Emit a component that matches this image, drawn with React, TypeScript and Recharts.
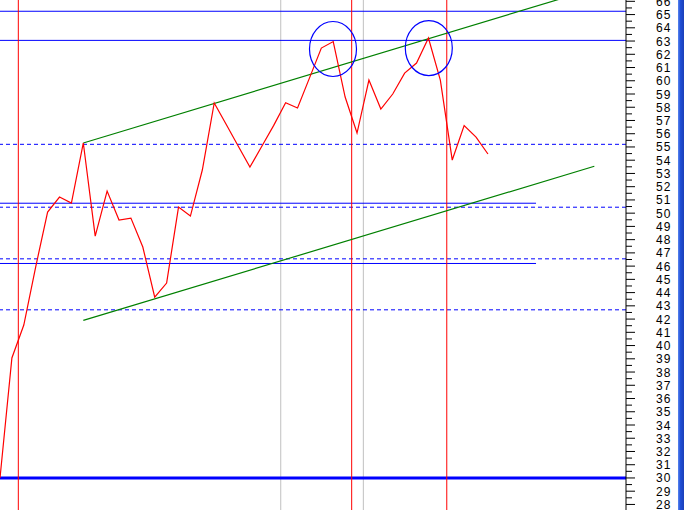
import React from 'react';
import { ComposedChart, Line, XAxis, YAxis, ReferenceLine, ReferenceDot } from 'recharts';

// closing prices, one per bar
const prices = [
  30.0, 39.06, 41.55, 45.95, 50.08, 51.22, 50.76, 55.3, 48.27, 51.67,
  49.48, 49.63, 47.44, 43.66, 44.72, 50.46, 49.78, 53.26, 58.32, 56.71,
  55.09, 53.48, 55.05, 56.63, 58.34, 57.94, 60.2, 62.47, 62.96, 58.77,
  56.05, 60.05, 57.86, 59.0, 60.58, 61.34, 63.23, 60.05, 54.01, 56.62,
  55.75, 54.47,
];

// price scale labels
const priceLabels = [
  28, 29, 30, 31, 32, 33, 34, 35, 36, 37, 38, 39, 40, 41, 42, 43, 44, 45, 46, 47,
  48, 49, 50, 51, 52, 53, 54, 55, 56, 57, 58, 59, 60, 61, 62, 63, 64, 65, 66,
];

// horizontal levels
const solidLevels = [65.25, 63.05];
const shortLevels = [50.75, 46.2];
const shortLevelEnd = 45.04;
const dashedLevels = [55.2, 50.45, 46.55, 42.7];
const baseLevel = 30;

// vertical markers (bar index)
const redMarkers = [1.54, 29.55, 37.54];
const grayMarkers = [23.59, 30.53];

// trend channel: [startIndex, startValue, endIndex, endValue]
const upperTrend = [7, 55.3, 47, 66.16];
const lowerTrend = [7, 41.9, 49.94, 53.54];

// highlighted tops: [index, value]
const tops = [
  [27.98, 62.4],
  [36.03, 62.47],
];

const xMax = 52.6;
const yDomain = [27.58, 66.1];

const data = prices.map((v, i) => ({ i, v }));
const ticks = priceLabels.flatMap((n) => [n, n + 0.5]).filter((t) => t <= 66);

const AxisTick = (props: any) => {
  const { x, y, payload } = props;
  const major = Number.isInteger(payload.value);
  return (
    <g>
      <line x1={x} y1={y} x2={x + (major ? 9 : 6)} y2={y} stroke="#000" />
      {major && (
        <text
          x={x + 30}
          y={y}
          dy={4.5}
          textAnchor="start"
          fontSize={12}
          letterSpacing={1}
          fontFamily="Liberation Sans, Arial, sans-serif"
          fill="#000"
        >
          {payload.value}
        </text>
      )}
    </g>
  );
};

const Ellipse = (p: any) => (
  <ellipse cx={p.cx} cy={p.cy} rx={23.5} ry={27.5} fill="none" stroke="#0000ff" strokeWidth={1.2} />
);

export default function App() {
  return (
    <div style={{ position: 'absolute', left: 0, top: 0, width: 684, height: 510, background: '#fff' }}>
      <ComposedChart width={684} height={510} data={data} margin={{ top: 0, right: 0, bottom: 0, left: 0 }}>
        <XAxis dataKey="i" type="number" domain={[0, xMax]} allowDataOverflow hide />
        <YAxis
          orientation="right"
          width={58}
          domain={yDomain}
          allowDataOverflow
          ticks={ticks}
          interval={0}
          tickSize={0}
          tickMargin={0}
          tickLine={false}
          axisLine={{ stroke: '#000' }}
          tick={<AxisTick />}
        />

        {grayMarkers.map((x) => (
          <ReferenceLine key={`g${x}`} x={x} stroke="#c0c0c0" />
        ))}
        {dashedLevels.map((y) => (
          <ReferenceLine key={`d${y}`} y={y} stroke="#0000ff" strokeDasharray="4 3" />
        ))}
        {solidLevels.map((y) => (
          <ReferenceLine key={`s${y}`} y={y} stroke="#0000ff" />
        ))}
        {shortLevels.map((y) => (
          <ReferenceLine
            key={`p${y}`}
            segment={[
              { x: 0, y },
              { x: shortLevelEnd, y },
            ]}
            stroke="#0000ff"
          />
        ))}
        <ReferenceLine y={baseLevel} stroke="#0000ff" strokeWidth={3} />
        {redMarkers.map((x) => (
          <ReferenceLine key={`r${x}`} x={x} stroke="#ff0000" />
        ))}

        {[upperTrend, lowerTrend].map((t, k) => (
          <ReferenceLine
            key={`t${k}`}
            segment={[
              { x: t[0], y: t[1] },
              { x: t[2], y: t[3] },
            ]}
            stroke="#008000"
            strokeWidth={1.2}
            ifOverflow="hidden"
          />
        ))}

        {tops.map((t, k) => (
          <ReferenceDot key={`c${k}`} x={t[0]} y={t[1]} r={24} shape={<Ellipse />} />
        ))}

        <Line
          type="linear"
          dataKey="v"
          stroke="#ff0000"
          strokeWidth={1.2}
          dot={false}
          activeDot={false}
          isAnimationActive={false}
        />
      </ComposedChart>
      <div
        style={{
          position: 'absolute',
          left: 678,
          top: 0,
          width: 6,
          height: 510,
          background: 'linear-gradient(to right, #5a86f0, #1f4fd6 40%, #1a3fb8)',
        }}
      />
    </div>
  );
}
